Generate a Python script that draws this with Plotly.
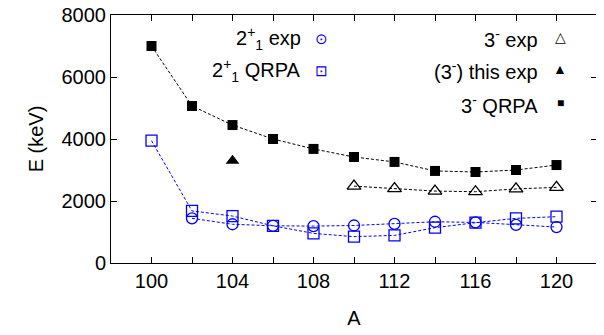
import plotly.graph_objects as go

A_all = [100, 102, 104, 106, 108, 110, 112, 114, 116, 118, 120]
A_exp2 = [102, 104, 106, 108, 110, 112, 114, 116, 118, 120]
e2_exp = [1440, 1250, 1200, 1190, 1210, 1260, 1330, 1310, 1230, 1160]
e2_qrpa = [3945, 1680, 1515, 1200, 955, 850, 890, 1140, 1300, 1440, 1495]
A_exp3 = [110, 112, 114, 116, 118, 120]
e3_exp = [2480, 2400, 2320, 2300, 2390, 2440]
A_this = [104]
e3_this = [3300]
e3_qrpa = [7000, 5065, 4450, 4000, 3680, 3420, 3260, 2970, 2935, 3000, 3160]

x_ticks = [100, 102, 104, 106, 108, 110, 112, 114, 116, 118, 120]
x_ticklabels = ["100", "", "104", "", "108", "", "112", "", "116", "", "120"]
y_ticks = [0, 2000, 4000, 6000, 8000]

BLUE = "#0000ff"
FONT = "Liberation Sans"
FS = 20
dash = "3px,2px"

fig = go.Figure()
fig.add_trace(go.Scatter(x=A_all, y=e3_qrpa, mode="lines+markers",
    line=dict(color="black", width=1, dash=dash),
    marker=dict(symbol="square", size=10, color="black")))
fig.add_trace(go.Scatter(x=A_exp3, y=e3_exp, mode="lines+markers",
    line=dict(color="black", width=1, dash=dash),
    marker=dict(symbol="triangle-up-open", size=12, color="black", line=dict(width=1.3))))
fig.add_trace(go.Scatter(x=A_this, y=e3_this, mode="markers",
    marker=dict(symbol="triangle-up", size=12, color="black")))
fig.add_trace(go.Scatter(x=A_all, y=e2_qrpa, mode="lines+markers",
    line=dict(color=BLUE, width=1, dash=dash),
    marker=dict(symbol="square-open", size=11, color=BLUE, line=dict(width=1.3))))
fig.add_trace(go.Scatter(x=A_exp2, y=e2_exp, mode="lines+markers",
    line=dict(color=BLUE, width=1, dash=dash),
    marker=dict(symbol="circle-open", size=11, color=BLUE, line=dict(width=1.3))))

ann = []
def txt(x, y, s, anchor="right", color="black", size=FS):
    ann.append(dict(x=x, y=y, xref="paper", yref="paper", text=s, showarrow=False,
                    xanchor=anchor, yanchor="middle", font=dict(family=FONT, size=size, color=color)))

txt(0.395, 0.907, "2<sup>+</sup><sub>1</sub> exp")
txt(0.395, 0.778, "2<sup>+</sup><sub>1</sub> QRPA")
txt(0.434, 0.907, "⊙", "center", BLUE, 15)
txt(0.434, 0.778, "⊡", "center", BLUE, 15)
txt(0.883, 0.907, "3<sup>-</sup> exp")
txt(0.883, 0.778, "(3<sup>-</sup>) this exp")
txt(0.883, 0.641, "3<sup>-</sup> QRPA")
txt(0.924, 0.912, "△", "center", "black", 14)
txt(0.924, 0.782, "▲", "center", "black", 14)
txt(0.924, 0.645, "■", "center", "black", 12)

# page body has an 8px margin: compensate so the plot area lands where the reference has it
fig.update_layout(
    width=604, height=335,
    margin=dict(l=103, r=15, t=7, b=80),
    paper_bgcolor="white", plot_bgcolor="white",
    showlegend=False,
    font=dict(family=FONT, size=FS, color="black"),
    annotations=ann,
)
fig.update_xaxes(range=[98, 122], tickvals=x_ticks, ticktext=x_ticklabels,
    ticks="inside", ticklen=6, tickwidth=1, tickcolor="black",
    showline=True, linecolor="black", linewidth=1, mirror="ticks",
    showgrid=False, zeroline=False, ticklabeloverflow="allow", automargin=False,
    title=dict(text="A", font=dict(size=FS), standoff=19))
fig.update_yaxes(range=[0, 8000], tickvals=y_ticks,
    ticks="inside", ticklen=6, tickwidth=1, tickcolor="black",
    showline=True, linecolor="black", linewidth=1, mirror="ticks",
    showgrid=False, zeroline=False, ticklabeloverflow="allow", automargin=False,
    title=dict(text="E (keV)", font=dict(size=FS), standoff=12))

fig.write_html("out.html")
